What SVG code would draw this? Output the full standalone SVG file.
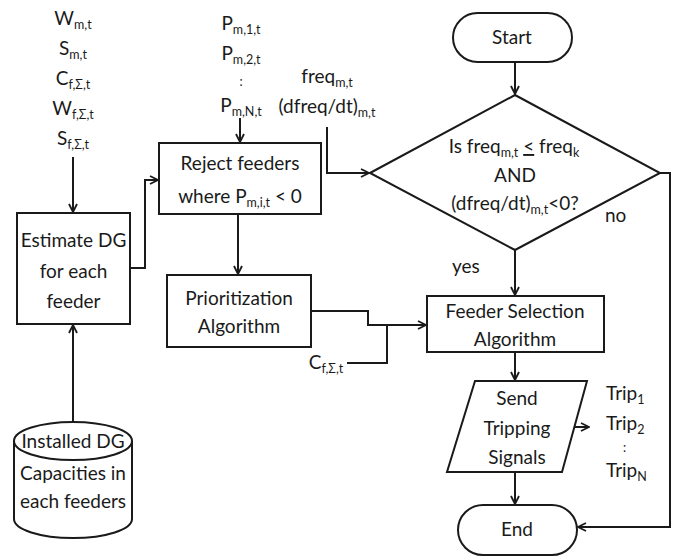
<svg xmlns="http://www.w3.org/2000/svg" width="679" height="556" viewBox="0 0 679 556">
<style>
text{font-family:Lato,"Liberation Sans",Arial,sans-serif;font-size:19px;fill:#1a1a1a}
.m{text-anchor:middle}
.s{font-size:12.5px}
.u{text-decoration:underline}
.shape{fill:#fff;stroke:#1a1a1a;stroke-width:2}
.c{fill:none;stroke:#1a1a1a;stroke-width:2}
</style>
<defs>
<marker id="arr" viewBox="0 0 10 10" refX="9" refY="5" markerWidth="10" markerHeight="10" markerUnits="userSpaceOnUse" orient="auto">
<path d="M1,1 L9,5 L1,9" fill="none" stroke="#1a1a1a" stroke-width="1.8"/>
</marker>
</defs>
<rect width="679" height="556" fill="#fff"/>
<g id="connectors">
<path class="c" d="M73,157 V212" marker-end="url(#arr)"/>
<path class="c" d="M73,422 V325" marker-end="url(#arr)"/>
<path class="c" d="M130,268 H145 V180 H158" marker-end="url(#arr)"/>
<path class="c" d="M240,118 V142" marker-end="url(#arr)"/>
<path class="c" d="M238,214 V274" marker-end="url(#arr)"/>
<path class="c" d="M327,127 V173 H369" marker-end="url(#arr)"/>
<path class="c" d="M515,62 V94" marker-end="url(#arr)"/>
<path class="c" d="M515,250 V295" marker-end="url(#arr)"/>
<path class="c" d="M660,173 H670 V527 H578" marker-end="url(#arr)"/>
<path class="c" d="M311,311 H368 V325 H426" marker-end="url(#arr)"/>
<path class="c" d="M347,363 H387 V325"/>
<path class="c" d="M515,352 V380" marker-end="url(#arr)"/>
<path class="c" d="M574,427 H589" marker-end="url(#arr)"/>
<path class="c" d="M515,472 V504" marker-end="url(#arr)"/>
</g>
<g id="inputs-left">
<text class="m" x="73" y="25">W<tspan class="s" dy="4">m,t</tspan></text>
<text class="m" x="73" y="55">S<tspan class="s" dy="4">m,t</tspan></text>
<text class="m" x="73" y="85">C<tspan class="s" dy="4">f,Σ,t</tspan></text>
<text class="m" x="73" y="115">W<tspan class="s" dy="4">f,Σ,t</tspan></text>
<text class="m" x="73" y="145">S<tspan class="s" dy="4">f,Σ,t</tspan></text>
</g>
<g id="inputs-p">
<text class="m" x="241" y="30">P<tspan class="s" dy="4">m,1,t</tspan></text>
<text class="m" x="241" y="60">P<tspan class="s" dy="4">m,2,t</tspan></text>
<text class="m s" x="241" y="86">:</text>
<text class="m" x="241" y="112">P<tspan class="s" dy="4">m,N,t</tspan></text>
</g>
<g id="inputs-freq">
<text class="m" x="327" y="83">freq<tspan class="s" dy="4">m,t</tspan></text>
<text class="m" x="327" y="113">(dfreq/dt)<tspan class="s" dy="4">m,t</tspan></text>
</g>
<g id="estimate">
<rect class="shape" x="17" y="213" width="113" height="111"/>
<text class="m" x="73.5" y="247">Estimate DG</text>
<text class="m" x="73.5" y="278">for each</text>
<text class="m" x="73.5" y="308">feeder</text>
</g>
<g id="installed">
<path class="shape" d="M14,441 V519 A59,19 0 0 0 132,519 V441"/>
<ellipse class="shape" cx="73" cy="441" rx="59" ry="19"/>
<text class="m" x="73" y="448">Installed DG</text>
<text class="m" x="73" y="480">Capacities in</text>
<text class="m" x="73" y="508">each feeders</text>
</g>
<g id="reject">
<rect class="shape" x="159" y="143" width="162" height="71"/>
<text class="m" x="240" y="170">Reject feeders</text>
<text class="m" x="240" y="203">where P<tspan class="s" dy="4">m,i,t</tspan><tspan dy="-4"> &lt; 0</tspan></text>
</g>
<g id="prioritization">
<rect class="shape" x="167" y="275" width="144" height="72"/>
<text class="m" x="239" y="305">Prioritization</text>
<text class="m" x="239" y="333">Algorithm</text>
</g>
<g id="cinput">
<text class="m" x="326" y="369">C<tspan class="s" dy="4">f,Σ,t</tspan></text>
</g>
<g id="start">
<rect class="shape" x="453" y="13" width="119" height="49" rx="24.5"/>
<text class="m" x="512" y="44">Start</text>
</g>
<g id="decision">
<polygon class="shape" points="370,173 515,95 660,173 515,250"/>
<text class="m" x="514" y="153">Is freq<tspan class="s" dy="4">m,t</tspan><tspan dy="-4"> </tspan><tspan class="u">&lt;</tspan><tspan> freq</tspan><tspan class="s" dy="4">k</tspan></text>
<text class="m" x="515" y="182">AND</text>
<text class="m" x="515" y="210">(dfreq/dt)<tspan class="s" dy="4">m,t</tspan><tspan dy="-4">&lt;0?</tspan></text>
</g>
<g id="labels">
<text x="605" y="222">no</text>
<text x="452" y="273">yes</text>
</g>
<g id="feeder-selection">
<rect class="shape" x="427" y="296" width="177" height="56"/>
<text class="m" x="515" y="318">Feeder Selection</text>
<text class="m" x="515" y="346">Algorithm</text>
</g>
<g id="send">
<polygon class="shape" points="475,381 587,381 562,472 447,472"/>
<text class="m" x="517" y="405">Send</text>
<text class="m" x="517" y="435">Tripping</text>
<text class="m" x="517" y="464">Signals</text>
</g>
<g id="trips">
<text x="606" y="400">Trip<tspan class="s" dy="4">1</tspan></text>
<text x="606" y="430">Trip<tspan class="s" dy="4">2</tspan></text>
<text class="s" x="623" y="452">:</text>
<text x="606" y="477">Trip<tspan class="s" dy="4">N</tspan></text>
</g>
<g id="end">
<rect class="shape" x="458" y="505" width="119" height="50" rx="25"/>
<text class="m" x="517" y="536">End</text>
</g>
</svg>
